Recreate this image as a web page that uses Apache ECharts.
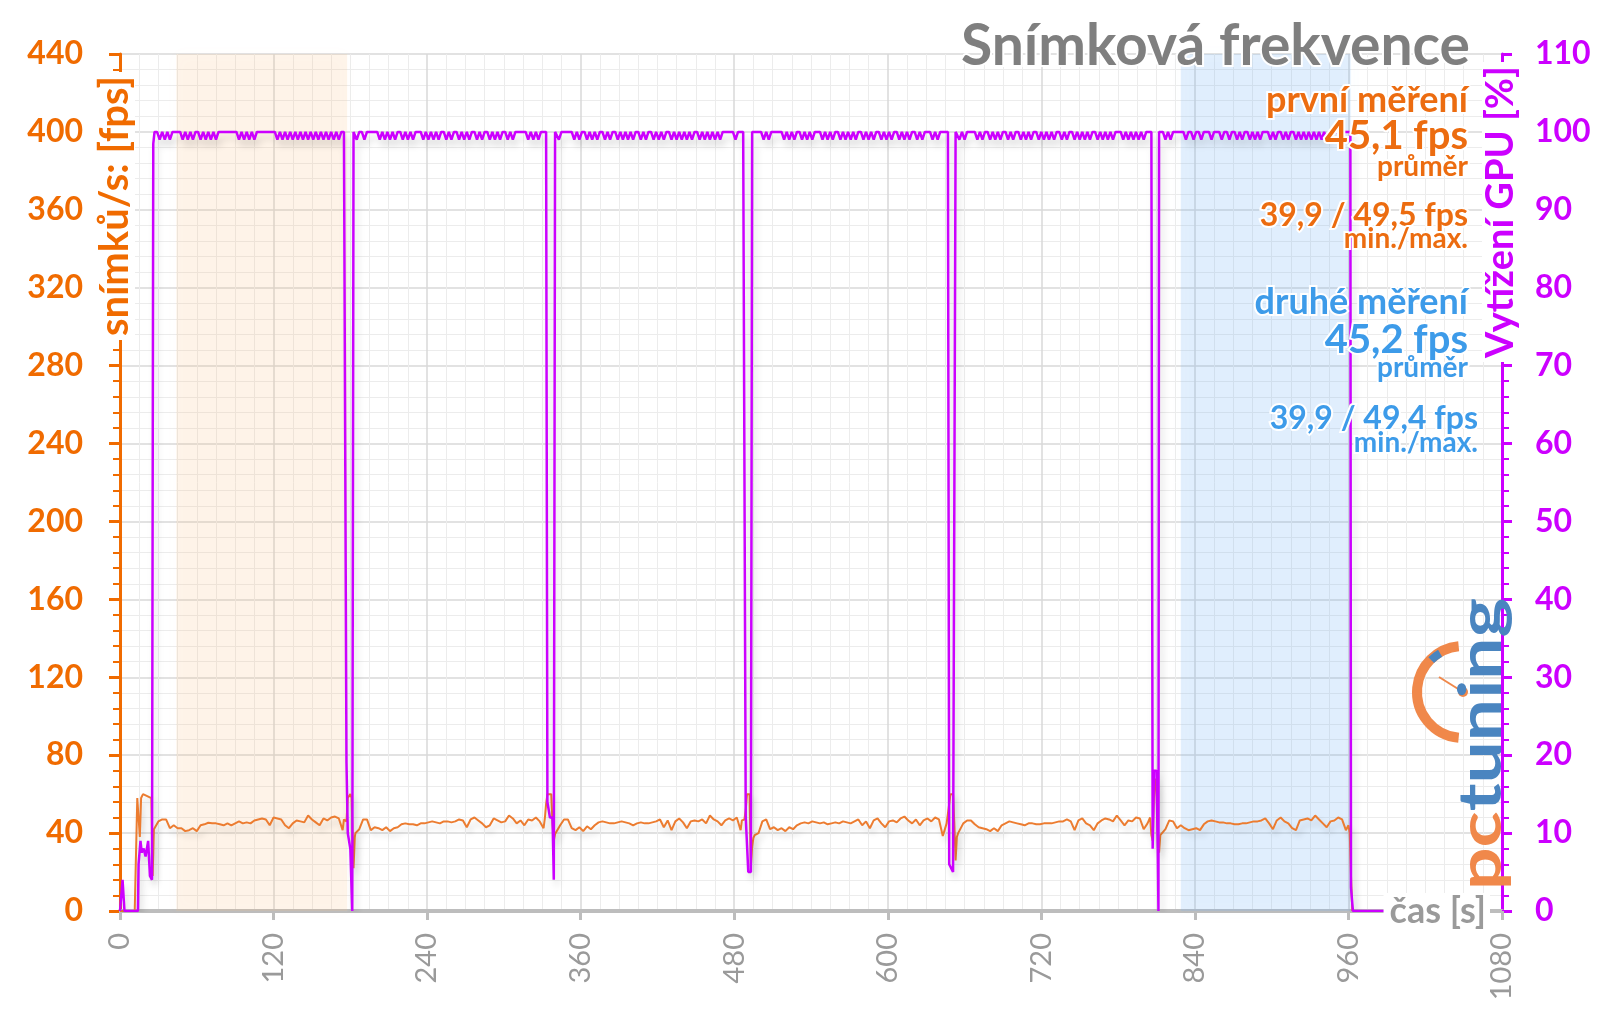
<!DOCTYPE html>
<html>
<head>
<meta charset="utf-8">
<title>Snímková frekvence</title>
<script src="https://cdn.jsdelivr.net/npm/echarts@6.0.0/dist/echarts.min.js"></script>
<style>
  html, body { margin: 0; padding: 0; background: #fff; }
  #main { width: 1600px; height: 1010px; }
</style>
</head>
<body>
<div id="main"></div>
<script>
// osa x: čas [s], popisky po 120 s
const xTicks = [0, 120, 240, 360, 480, 600, 720, 840, 960, 1080];

// snímková frekvence – začátek měření (čas, fps)
const fpsStart = [[0, 0], [11.5, 0], [13.5, 58], [14.5, 58], [15.5, 38], [16.5, 58], [18, 60], [24.5, 58], [25.5, 18], [26.5, 42]];

// jednotlivé průjezdy, vzorky po 3 s
const fpsRunStart = [27, 184, 341, 496, 656, 814];
const fpsStep = 3;
const fpsRun1 = [42, 46, 47, 47, 42.5, 44, 42.5, 42.5, 41, 41.5,
  42.5, 41, 44, 44.5, 45.3, 45, 45, 44.5, 44, 45,
  44, 45, 46, 45, 45.5, 45, 46.5, 47, 47.5, 47,
  44, 48, 47.5, 47, 44, 42.5, 45, 46.5, 46, 45.5,
  49, 47, 45.5, 44, 47.5, 46.5, 48, 48.5, 47.5, 41.5];
const fpsRun2 = [40, 42, 47, 47, 41.5, 43, 42.5, 41.5, 43, 41,
  42.5, 43, 44.5, 45, 44.5, 44.5, 44, 45, 45, 45.5,
  46, 45.5, 45, 46, 46, 45.5, 46, 47, 46.5, 43,
  47, 48, 46.5, 45, 43, 44, 47.5, 46.5, 45.5, 46,
  49, 47.5, 45, 46.5, 44, 47, 46.5, 48, 46, 42.5];
const fpsRun3 = [40, 44, 47, 47, 42.5, 41.5, 43, 41, 43.5, 42,
  44, 45.5, 46, 45.5, 45, 45, 45.5, 46, 45.5, 45,
  44, 45, 45.5, 45, 45, 45.5, 46, 47, 43, 46.5,
  41.5, 46, 47.5, 45.5, 42.5, 46, 46.5, 46, 47, 45,
  49, 47, 46, 44, 46.5, 47.5, 46.5, 48, 41.5];
const fpsRun4 = [39, 40, 46, 47, 42, 43, 41.5, 42.5, 41, 43,
  42, 44, 45, 45.5, 45, 46, 45.5, 45, 45.5, 44.5,
  45, 45.5, 45, 46, 45.5, 45, 46, 47, 44, 46,
  42.5, 46.5, 47.5, 45, 43, 46, 46.5, 45.5, 47.5, 48.5,
  46.5, 45, 47, 44, 46.5, 47.5, 46, 48, 47, 38.5,
  45];
const fpsRun5 = [40, 45, 46.5, 46.5, 44.5, 43, 42.5, 42, 41, 42.5,
  41, 44, 45, 46, 45.5, 45, 44.5, 44, 45, 45,
  44.5, 44.5, 45, 45, 45, 45.5, 46, 46, 47, 46,
  41.5, 46.5, 47.5, 45, 44, 41.5, 45, 46.5, 47.5, 47,
  46, 49, 46.5, 44, 46.5, 46, 48, 47.5, 42, 45];
const fpsRun6 = [40, 42, 46.5, 46, 42.5, 44, 42.5, 41.5, 42, 42.5,
  41.5, 44.5, 46, 46.5, 46, 45.5, 45.5, 45, 45, 44.5,
  44.5, 45, 45, 45.5, 46, 46, 46.5, 47.5, 45, 42,
  46.5, 48, 46, 45, 42.5, 41.5, 46.5, 47, 47.5, 46.5,
  49, 47, 45, 43, 46, 46.5, 48, 47, 41.5];
// přechody mezi průjezdy (čas, fps)
const fpsTrans = [
  [[175, 47], [177, 46], [178, 58], [180, 60], [181, 58], [182.5, 22], [183.5, 38]],
  [[332, 47.5], [333, 55], [334, 60], [337, 60], [338, 45], [339, 36], [340, 39.5]],
  [[486, 46.5], [488, 47], [489, 52], [490, 60], [492, 60], [493, 22.6], [494, 33], [495, 37.5]],
  [[647, 46], [648, 55], [649, 60], [651, 60], [652, 45], [653, 26], [654, 38], [655, 40]],
  [[805, 48], [806, 39], [807, 36], [808, 58], [809, 68], [810, 62], [811, 40], [812, 30], [813, 39]],
  [[960, 44], [961, 40], [962, 18], [963, 0]]
];

// vytížení GPU – začátek (čas, %)
const gpuStart = [[0, 0], [1.5, 0], [2, 4], [3.5, 0], [14, 0], [14.5, 6], [15.5, 6], [16, 9], [17, 7.5], [18.5, 8], [20, 7], [22, 9], [23.4, 4.5], [25, 4], [26, 98.5]];
// průjezdy, vzorky po 2 s
const gpuRunStart = [27, 183, 341, 495, 654, 813];
const gpuStep = 2;
const gpuRun1 = [100, 100, 99, 100, 99, 100, 99, 100, 100, 100,
  100, 99, 100, 99, 100, 99, 100, 100, 99, 100,
  99, 100, 99, 100, 99, 100, 100, 100, 100, 100,
  100, 100, 100, 99, 100, 99, 100, 99, 100, 99,
  100, 100, 100, 100, 100, 100, 100, 100, 99, 100,
  99, 100, 99, 100, 99, 100, 99, 100, 99, 100,
  99, 100, 99, 100, 99, 100, 99, 100, 99, 100,
  99, 100, 99, 100, 100];
const gpuRun2 = [100, 99, 100, 100, 99, 100, 100, 100, 100, 100,
  99, 100, 99, 100, 99, 100, 99, 100, 100, 99,
  100, 99, 100, 99, 100, 100, 100, 99, 100, 99,
  100, 99, 100, 99, 100, 100, 99, 100, 99, 100,
  100, 99, 100, 99, 100, 99, 100, 100, 99, 100,
  99, 100, 100, 99, 100, 99, 100, 99, 100, 100,
  99, 100, 99, 100, 100, 100, 100, 100, 99, 100,
  99, 100, 99, 100, 100];
const gpuRun3 = [100, 99, 100, 100, 100, 100, 100, 99, 100, 99,
  100, 100, 99, 100, 99, 100, 99, 100, 100, 99,
  100, 99, 100, 100, 99, 100, 99, 100, 99, 100,
  99, 100, 100, 99, 100, 99, 100, 100, 99, 100,
  99, 100, 99, 100, 100, 99, 100, 99, 100, 99,
  100, 99, 100, 99, 100, 100, 99, 100, 99, 100,
  99, 100, 99, 100, 99, 100, 100, 100, 100, 100,
  99, 100, 100, 100];
const gpuRun4 = [100, 100, 100, 100, 99, 100, 99, 100, 100, 100,
  100, 100, 99, 100, 99, 100, 99, 100, 100, 99,
  100, 99, 100, 99, 100, 100, 100, 99, 100, 99,
  100, 99, 100, 100, 99, 100, 99, 100, 99, 100,
  99, 100, 100, 99, 100, 99, 100, 99, 100, 100,
  99, 100, 99, 100, 99, 100, 100, 99, 100, 99,
  100, 99, 100, 100, 99, 100, 99, 100, 100, 100,
  99, 100, 99, 100, 100, 100];
const gpuRun5 = [100, 99, 100, 99, 100, 100, 100, 100, 99, 100,
  99, 100, 100, 99, 100, 99, 100, 99, 100, 100,
  99, 100, 99, 100, 100, 99, 100, 99, 100, 99,
  100, 100, 99, 100, 99, 100, 99, 100, 99, 100,
  100, 99, 100, 99, 100, 100, 99, 100, 99, 100,
  99, 100, 99, 100, 100, 99, 100, 99, 100, 99,
  100, 99, 100, 100, 100, 99, 100, 99, 100, 99,
  100, 99, 100, 99, 100, 100];
const gpuRun6 = [100, 100, 99, 100, 99, 100, 100, 100, 100, 100,
  99, 100, 100, 99, 100, 100, 99, 100, 100, 100,
  99, 100, 100, 100, 99, 100, 100, 99, 100, 100,
  99, 100, 99, 100, 100, 99, 100, 99, 100, 99,
  100, 100, 100, 99, 100, 99, 100, 100, 99, 100,
  99, 100, 100, 99, 100, 99, 100, 99, 100, 99,
  100, 99, 100, 99, 100, 99, 100, 100, 100, 100,
  100, 100, 100, 100];
const gpuTrans = [
  [[176, 100], [177, 19], [178, 10], [180, 8], [181.5, 0], [182.5, 100]],
  [[333, 100], [334, 14], [336, 12], [338, 12], [339, 4], [340, 100]],
  [[488, 100], [489, 12], [490, 12], [491, 5], [493, 5], [494, 100]],
  [[647, 100], [648, 6], [651, 5], [652, 5], [653, 100]],
  [[806, 100], [807, 8], [808, 18], [810, 18], [811, 8], [811.5, 0], [812, 100]],
  [[961.5, 100], [962, 3], [963.5, 0], [1000, 0]]
];

// vyznačené úseky měření [od, do] v s
const firstRange = [44, 177.5];
const secondRange = [829, 961.7];

function buildLine(start, runs, runStart, step, trans) {
  const out = start.slice();
  runs.forEach(function (vals, i) {
    vals.forEach(function (v, j) { out.push([runStart[i] + j * step, v]); });
    trans[i].forEach(function (p) { out.push(p); });
  });
  return out;
}

const fpsData = buildLine(fpsStart, [fpsRun1, fpsRun2, fpsRun3, fpsRun4, fpsRun5, fpsRun6], fpsRunStart, fpsStep, fpsTrans);
const gpuData = buildLine(gpuStart, [gpuRun1, gpuRun2, gpuRun3, gpuRun4, gpuRun5, gpuRun6], gpuRunStart, gpuStep, gpuTrans);

const ORANGE = '#f06b00';
const MAGENTA = '#cc00ff';
const BLUE = '#3d9be9';
const FONT = 'Lato';

function note(text, x, y, size, color) {
  return {
    type: 'text', z: 100, x: x, y: y,
    style: {
      text: text, font: 'bold ' + size + 'px ' + FONT, fill: color,
      textAlign: 'right', textVerticalAlign: 'middle',
      stroke: '#fff', lineWidth: 4, strokeFirst: true
    }
  };
}

var myChart = echarts.init(document.getElementById('main'));

var option = {
  animation: false,
  backgroundColor: '#fff',
  grid: { left: 120, right: 98, top: 54, bottom: 99 },
  xAxis: {
    type: 'value', min: xTicks[0], max: xTicks[xTicks.length - 1], interval: 120,
    axisLine: { show: true, lineStyle: { color: '#bdbdbd', width: 4 } },
    axisTick: { show: true, length: 9, lineStyle: { color: '#bdbdbd', width: 3 } },
    minorTick: { show: false, splitNumber: 8 },
    axisLabel: { rotate: 90, margin: 22, color: '#9a9a9a', fontSize: 29, fontFamily: FONT, formatter: function (v) { return String(v); } },
    splitLine: { show: true, lineStyle: { color: '#d8d8d8', width: 1.5 } },
    minorSplitLine: { show: true, lineStyle: { color: '#ececec', width: 1 } }
  },
  yAxis: [{
    type: 'value', min: 0, max: 440, interval: 40, position: 'left',
    axisLine: { show: true, lineStyle: { color: ORANGE, width: 3 } },
    axisTick: { show: true, length: 11, lineStyle: { color: ORANGE, width: 3 } },
    minorTick: { show: true, splitNumber: 5, length: 7, lineStyle: { color: ORANGE, width: 2 } },
    axisLabel: { margin: 37, color: ORANGE, fontSize: 32, fontWeight: 'bold', fontFamily: FONT },
    splitLine: { show: true, lineStyle: { color: '#d8d8d8', width: 1.5 } },
    minorSplitLine: { show: true, lineStyle: { color: '#ececec', width: 1 } }
  }, {
    type: 'value', min: 0, max: 110, interval: 10, position: 'right',
    axisLine: { show: true, lineStyle: { color: MAGENTA, width: 3 } },
    axisTick: { show: true, length: 10, lineStyle: { color: MAGENTA, width: 3 } },
    minorTick: { show: true, splitNumber: 5, length: 7, lineStyle: { color: MAGENTA, width: 2 } },
    axisLabel: { margin: 33, color: MAGENTA, fontSize: 32, fontWeight: 'bold', fontFamily: FONT },
    splitLine: { show: false }
  }],
  series: [{
    name: 'fps', type: 'line', yAxisIndex: 0, data: fpsData,
    showSymbol: false, symbol: 'none', z: 3,
    lineStyle: { color: '#ec7c30', width: 2, shadowColor: 'rgba(0,0,0,0.15)', shadowBlur: 6, shadowOffsetX: 3, shadowOffsetY: 5 },
    markArea: {
      silent: true,
      data: [
        [{ xAxis: firstRange[0], itemStyle: { color: 'rgba(250,190,130,0.16)', shadowColor: 'rgba(250,190,130,0.14)', shadowBlur: 14 } }, { xAxis: firstRange[1] }],
        [{ xAxis: secondRange[0], itemStyle: { color: 'rgba(120,180,245,0.2)', shadowColor: 'rgba(120,180,245,0.14)', shadowBlur: 14 } }, { xAxis: secondRange[1] }]
      ]
    }
  }, {
    name: 'GPU', type: 'line', yAxisIndex: 1, data: gpuData,
    showSymbol: false, symbol: 'none', z: 4,
    lineStyle: { color: MAGENTA, width: 2.5, shadowColor: 'rgba(0,0,0,0.15)', shadowBlur: 7, shadowOffsetX: 3, shadowOffsetY: 6 }
  }],
  graphic: [
    // titulek
    note('Snímková frekvence', 1470, 47, 57, '#7f7f7f'),
    // první měření
    note('první měření', 1468, 100, 36, '#ec6c10'),
    note('45,1 fps', 1468, 136, 40, '#ec6c10'),
    note('průměr', 1468, 167, 28, '#ec6c10'),
    note('39,9 / 49,5 fps', 1468, 216, 32, '#ec6c10'),
    note('min./max.', 1468, 239, 28, '#ec6c10'),
    // druhé měření
    note('druhé měření', 1468, 302, 36, BLUE),
    note('45,2 fps', 1468, 340, 40, BLUE),
    note('průměr', 1468, 368, 28, BLUE),
    note('39,9 / 49,4 fps', 1478, 419, 32, BLUE),
    note('min./max.', 1478, 443, 28, BLUE),
    // názvy os
    {
      type: 'text', z: 100, x: 115, y: 206, rotation: Math.PI / 2,
      style: { text: 'snímků/s: [fps]', font: 'bold 40px ' + FONT, fill: ORANGE, textAlign: 'center', textVerticalAlign: 'middle', backgroundColor: '#fff', padding: [0, 4] }
    },
    {
      type: 'text', z: 100, x: 1501, y: 212, rotation: Math.PI / 2,
      style: { text: 'Vytížení GPU [%]', font: 'bold 38px ' + FONT, fill: MAGENTA, textAlign: 'center', textVerticalAlign: 'middle', backgroundColor: '#fff', padding: [0, 4] }
    },
    {
      type: 'text', z: 100, x: 1490, y: 911,
      style: { text: 'čas [s]', font: 'bold 36px ' + FONT, fill: '#9a9a9a', textAlign: 'right', textVerticalAlign: 'middle', backgroundColor: '#fff', padding: [0, 4, 0, 6] }
    },
    // logo
    {
      type: 'arc', z: 90,
      shape: { cx: 1463, cy: 692, r: 46, startAngle: Math.PI * 0.53, endAngle: Math.PI * 1.47, clockwise: true },
      style: { stroke: '#f0884a', lineWidth: 10, fill: null }
    },
    {
      type: 'arc', z: 91,
      shape: { cx: 1463, cy: 692, r: 45, startAngle: Math.PI * 1.25, endAngle: Math.PI * 1.33, clockwise: true },
      style: { stroke: '#4a85c0', lineWidth: 8, fill: null }
    },
    { type: 'line', z: 91, shape: { x1: 1463, y1: 692, x2: 1439, y2: 677 }, style: { stroke: '#f0884a', lineWidth: 2 } },
    { type: 'circle', z: 91, shape: { cx: 1463, cy: 692, r: 5 }, style: { fill: '#f0884a' } },
    {
      type: 'text', z: 92, x: 1482, y: 744, rotation: Math.PI / 2, scaleX: 1.25,
      style: {
        text: '{a|pc}{b|tuning}', textAlign: 'center', textVerticalAlign: 'middle',
        rich: {
          a: { fill: '#f0884a', font: 'bold 60px ' + FONT },
          b: { fill: '#4a85c0', font: 'bold 60px ' + FONT }
        }
      }
    }
  ]
};

myChart.setOption(option);
</script>
</body>
</html>
